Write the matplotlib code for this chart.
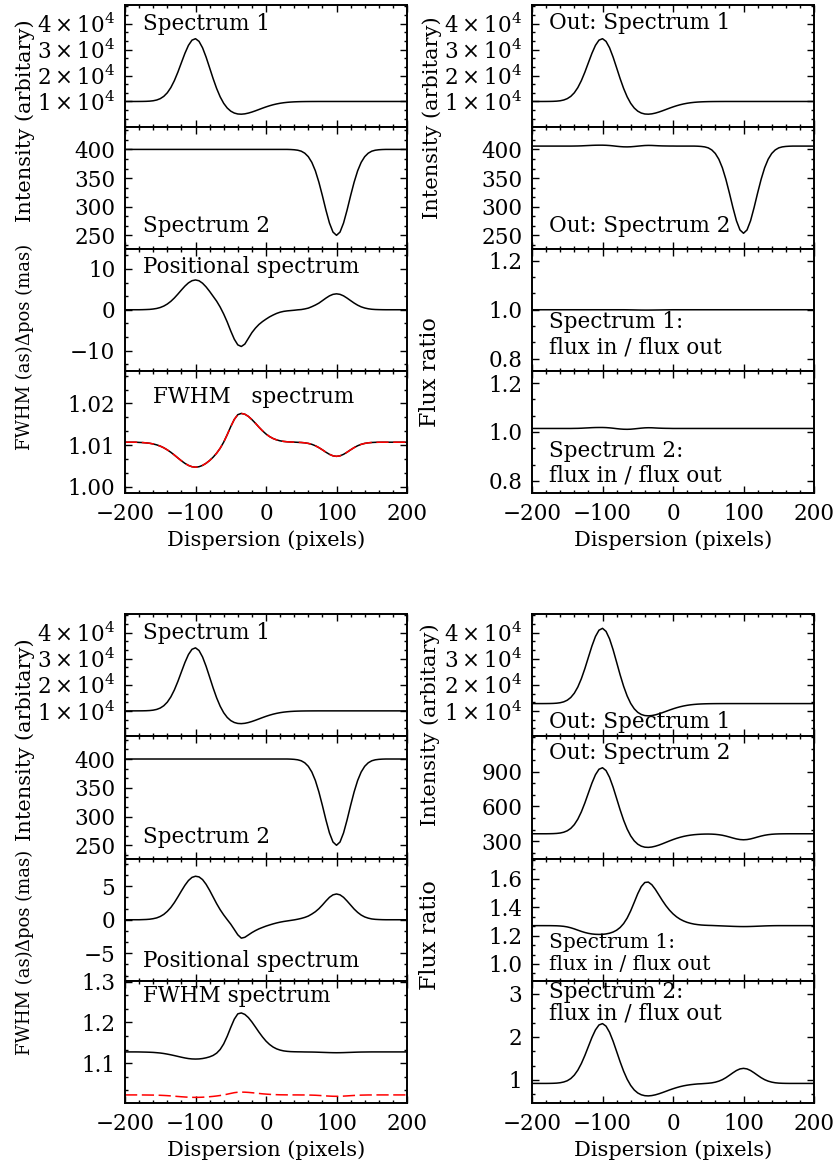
import numpy as np
import matplotlib
matplotlib.use('Agg')
import matplotlib.pyplot as plt
from matplotlib.ticker import FixedLocator, AutoMinorLocator, FuncFormatter

plt.rcParams['font.family'] = ['DejaVu Serif']
plt.rcParams['mathtext.fontset'] = 'dejavuserif'

W, H = 836, 1167

# dispersion axis (pixels), one sample every 5 pixels
dispersion = np.arange(-200, 201, 5)

# ---- case A (top half) ----
spec1 = [10000, 10000, 10000, 10000, 10008, 10022, 10055, 10127, 10276, 10565,
         11087, 11971, 13349, 15352, 18029, 21307, 24957, 28571, 31639, 33640,
         34210, 33177, 30702, 27139, 23005, 18817, 14992, 11782, 9285, 7481,
         6268, 5539, 5176, 5098, 5230, 5521, 5924, 6396, 6907, 7418,
         7903, 8344, 8728, 9049, 9310, 9512, 9665, 9776, 9855, 9908,
         9944, 9966, 9980, 9989, 9994, 10000, 10000, 10000, 10000, 10000,
         10000, 10000, 10000, 10000, 10000, 10000, 10000, 10000, 10000, 10000,
         10000, 10000, 10000, 10000, 10000, 10000, 10000, 10000, 10000, 10000,
         10000]
spec2 = [400, 400, 400, 400, 400, 400, 400, 400, 400, 400,
         400, 400, 400, 400, 400, 400, 400, 400, 400, 400,
         400, 400, 400, 400, 400, 400, 400, 400, 400, 400,
         400, 400, 400, 400, 400, 400, 400, 400, 400, 400,
         400, 400, 400, 400, 400, 400, 400, 399.8, 399.4, 398.6,
         396.9, 393.4, 387.3, 377.4, 362.7, 342.8, 319.2, 294.1, 271.5, 255.7,
         250.0, 255.7, 271.5, 294.1, 319.2, 342.8, 362.7, 377.4, 387.3, 393.4,
         396.9, 398.6, 399.4, 399.8, 400, 400, 400, 400, 400, 400,
         400]
outSpec2A = [405.8, 405.8, 405.8, 405.8, 405.8, 405.8, 405.8, 405.8, 405.8, 405.8,
             405.8, 405.8, 405.9, 406.0, 406.2, 406.5, 406.8, 407.1, 407.3, 407.4,
             407.4, 407.2, 406.8, 406.2, 405.5, 404.9, 404.5, 404.4, 404.6, 405.1,
             405.7, 406.3, 406.8, 407.0, 406.9, 406.6, 406.3, 406.1, 406.0, 405.9,
             405.9, 405.8, 405.8, 405.8, 405.8, 405.8, 405.8, 405.6, 405.2, 404.4,
             402.7, 399.1, 392.9, 382.9, 368.0, 347.8, 323.8, 298.4, 275.4, 259.4,
             253.6, 259.4, 275.4, 298.4, 323.8, 347.8, 368.0, 382.9, 392.9, 399.1,
             402.7, 404.4, 405.2, 405.6, 405.8, 405.8, 405.8, 405.8, 405.8, 405.8,
             405.8]
posA = [0, 0, 0, 0, 0, 0.02, 0.05, 0.09, 0.18, 0.32,
        0.55, 0.90, 1.40, 2.06, 2.88, 3.83, 4.83, 5.79, 6.58, 7.11,
        7.30, 7.10, 6.50, 5.60, 4.50, 3.30, 2.10, 0.65, -1.05, -3.00,
        -5.20, -7.20, -8.60, -9.00, -8.40, -7.00, -5.60, -4.50, -3.60, -2.90,
        -2.30, -1.75, -1.30, -0.90, -0.60, -0.40, -0.28, -0.20, -0.12, -0.02,
        0.05, 0.20, 0.40, 0.75, 1.15, 1.62, 2.23, 2.85, 3.40, 3.77,
        3.90, 3.77, 3.40, 2.85, 2.24, 1.64, 1.12, 0.71, 0.43, 0.24,
        0.12, 0.06, 0.03, 0.01, 0, 0, 0, 0, 0, 0,
        0]
fwhmA = [1.0107, 1.0107, 1.0107, 1.0107, 1.01065, 1.01061, 1.01054, 1.01044, 1.01028, 1.01006,
         1.00976, 1.00936, 1.00886, 1.00828, 1.00762, 1.00692, 1.00624, 1.00562, 1.00513, 1.00481,
         1.0047, 1.00481, 1.00513, 1.00564, 1.0063, 1.0071, 1.00807, 1.00925, 1.01072, 1.01251,
         1.01444, 1.01617, 1.01731, 1.01761, 1.01742, 1.0169, 1.01613, 1.01526, 1.01431, 1.01344,
         1.01267, 1.01206, 1.01159, 1.01126, 1.01103, 1.01089, 1.0108, 1.01075, 1.01072, 1.01067,
         1.01063, 1.01055, 1.01041, 1.01019, 1.00985, 1.0094, 1.00887, 1.0083, 1.00779, 1.00743,
         1.0073, 1.00743, 1.00779, 1.0083, 1.00887, 1.0094, 1.00985, 1.01019, 1.01041, 1.01055,
         1.01063, 1.01067, 1.01069, 1.0107, 1.0107, 1.0107, 1.0107, 1.0107, 1.0107, 1.0107,
         1.0107]
ratio1A = [1.0, 1.0, 1.0, 1.0, 1.0, 1.0, 1.0, 1.0, 1.0, 1.0,
           1.0, 1.0, 1.0, 1.0, 1.0, 1.0, 1.0, 1.0, 1.0, 1.0,
           1.0, 1.0, 1.0, 1.0, 1.0, 1.0, 1.0, 0.9998, 0.9996, 0.9993,
           0.999, 0.9988, 0.9987, 0.9987, 0.9988, 0.999, 0.9992, 0.9994, 0.9996, 0.9998,
           1.0, 1.0, 1.0, 1.0, 1.0, 1.0, 1.0, 1.0, 1.0, 1.0,
           1.0, 1.0, 1.0, 1.0, 1.0, 1.0, 1.0, 1.0, 1.0, 1.0,
           1.0, 1.0, 1.0, 1.0, 1.0, 1.0, 1.0, 1.0, 1.0, 1.0,
           1.0, 1.0, 1.0, 1.0, 1.0, 1.0, 1.0, 1.0, 1.0, 1.0,
           1.0]
ratio2A = [1.0145, 1.0145, 1.0145, 1.0145, 1.0145, 1.0145, 1.0145, 1.0145, 1.0145, 1.0145,
           1.0145, 1.0145, 1.0148, 1.015, 1.0155, 1.0163, 1.017, 1.0178, 1.0183, 1.0185,
           1.0185, 1.018, 1.017, 1.0155, 1.0138, 1.0123, 1.0113, 1.011, 1.0115, 1.0128,
           1.0143, 1.0158, 1.017, 1.0175, 1.0173, 1.0165, 1.0158, 1.0153, 1.015, 1.0148,
           1.0145, 1.0145, 1.0145, 1.0145, 1.0145, 1.0145, 1.0145, 1.0145, 1.0145, 1.0145,
           1.0145, 1.0145, 1.0145, 1.0145, 1.0145, 1.0145, 1.0145, 1.0145, 1.0145, 1.0145,
           1.0145, 1.0145, 1.0145, 1.0145, 1.0145, 1.0145, 1.0145, 1.0145, 1.0145, 1.0145,
           1.0145, 1.0145, 1.0145, 1.0145, 1.0145, 1.0145, 1.0145, 1.0145, 1.0145, 1.0145,
           1.0145]

# ---- case B (bottom half) ----
posB = [0, 0, 0, 0, 0, 0.02, 0.04, 0.08, 0.16, 0.28,
        0.49, 0.80, 1.25, 1.83, 2.56, 3.41, 4.30, 5.15, 5.86, 6.33,
        6.50, 6.40, 6.00, 5.30, 4.40, 3.40, 2.40, 1.50, 0.72, 0.02,
        -0.66, -1.45, -2.25, -2.75, -2.62, -2.27, -1.92, -1.62, -1.36, -1.15,
        -0.95, -0.78, -0.62, -0.48, -0.36, -0.26, -0.18, -0.10, -0.02, 0.08,
        0.20, 0.35, 0.55, 0.85, 1.20, 1.65, 2.20, 2.80, 3.35, 3.72,
        3.85, 3.72, 3.35, 2.80, 2.20, 1.60, 1.10, 0.70, 0.42, 0.24,
        0.12, 0.06, 0.03, 0.01, 0, 0, 0, 0, 0, 0,
        0]
fwhmB = [1.1277, 1.1277, 1.1277, 1.1277, 1.1276, 1.1274, 1.1272, 1.1269, 1.1265, 1.1258,
         1.1250, 1.1238, 1.1223, 1.1206, 1.1187, 1.1167, 1.1147, 1.1129, 1.1114, 1.1105,
         1.1102, 1.1105, 1.1115, 1.1132, 1.1156, 1.1191, 1.1247, 1.1337, 1.1474, 1.1661,
         1.1878, 1.2079, 1.2210, 1.2232, 1.2196, 1.2119, 1.2011, 1.1888, 1.1762, 1.1645,
         1.1542, 1.1460, 1.1397, 1.1352, 1.1322, 1.1302, 1.1291, 1.1284, 1.1281, 1.1279,
         1.1278, 1.1276, 1.1275, 1.1274, 1.1272, 1.1269, 1.1266, 1.1263, 1.1260, 1.1258,
         1.1257, 1.1258, 1.1260, 1.1263, 1.1266, 1.1269, 1.1272, 1.1274, 1.1275, 1.1276,
         1.1277, 1.1277, 1.1277, 1.1277, 1.1277, 1.1277, 1.1277, 1.1277, 1.1277, 1.1277,
         1.1277]
fwhmFitB = [1.0223, 1.0223, 1.0223, 1.0223, 1.0223, 1.0222, 1.0221, 1.0220, 1.0219, 1.0217,
            1.0214, 1.0210, 1.0205, 1.0199, 1.0192, 1.0185, 1.0178, 1.0172, 1.0167, 1.0164,
            1.0163, 1.0164, 1.0167, 1.0172, 1.0179, 1.0187, 1.0197, 1.0209, 1.0223, 1.0241,
            1.0260, 1.0278, 1.0289, 1.0292, 1.0290, 1.0285, 1.0277, 1.0269, 1.0259, 1.0250,
            1.0243, 1.0237, 1.0232, 1.0229, 1.0226, 1.0225, 1.0224, 1.0224, 1.0223, 1.0223,
            1.0222, 1.0222, 1.0220, 1.0218, 1.0215, 1.0210, 1.0205, 1.0199, 1.0194, 1.0190,
            1.0189, 1.0190, 1.0194, 1.0199, 1.0205, 1.0210, 1.0215, 1.0218, 1.0220, 1.0222,
            1.0222, 1.0223, 1.0223, 1.0223, 1.0223, 1.0223, 1.0223, 1.0223, 1.0223, 1.0223,
            1.0223]
outSpec1B = [12800, 12800, 12800, 12800, 12809, 12827, 12865, 12951, 13128, 13471,
             14092, 15142, 16781, 19162, 22346, 26246, 30590, 34900, 38567, 40977,
             41698, 40529, 37661, 33515, 28704, 23839, 19410, 15711, 12853, 10802,
             9434, 8613, 8198, 8090, 8201, 8476, 8862, 9316, 9810, 10304,
             10773, 11199, 11570, 11881, 12133, 12329, 12476, 12584, 12659, 12711,
             12746, 12767, 12781, 12789, 12794, 12797, 12800, 12800, 12800, 12800,
             12800, 12800, 12800, 12800, 12800, 12800, 12800, 12800, 12800, 12800,
             12800, 12800, 12800, 12800, 12800, 12800, 12800, 12800, 12800, 12800,
             12800]
outSpec2B = [364, 364, 364, 364, 364, 364.5, 365.3, 367.0, 370.5, 377.4,
             389.7, 410.5, 443.1, 490.4, 553.6, 631.0, 717.1, 802.4, 874.9, 922.1,
             935.4, 911.0, 852.3, 768.0, 670.2, 571.2, 480.6, 404.6, 345.5, 302.7,
             273.9, 256.6, 248.0, 246.2, 249.4, 256.4, 265.9, 277.4, 289.7, 302.0,
             313.6, 324.2, 333.4, 341.2, 347.4, 352.3, 356.0, 358.5, 360.3, 361.3,
             361.6, 360.9, 359.1, 355.8, 351.1, 344.2, 336.0, 327.3, 319.4, 314.0,
             312.0, 314.0, 319.4, 327.3, 336.0, 344.2, 351.1, 356.1, 359.6, 361.7,
             362.9, 363.5, 363.8, 364, 364, 364, 364, 364, 364, 364,
             364]
ratio1B = [1.270, 1.270, 1.270, 1.270, 1.2699, 1.2699, 1.2695, 1.2689, 1.2675, 1.2651,
           1.2610, 1.2549, 1.2471, 1.2382, 1.2294, 1.2218, 1.2157, 1.2115, 1.2090, 1.2081,
           1.2089, 1.2116, 1.2167, 1.2249, 1.2377, 1.2569, 1.2847, 1.3235, 1.3743, 1.4339,
           1.4951, 1.5450, 1.5739, 1.5769, 1.5581, 1.5252, 1.4860, 1.4465, 1.4103, 1.3791,
           1.3532, 1.3322, 1.3156, 1.3030, 1.2932, 1.2862, 1.2808, 1.2772, 1.2745, 1.2729,
           1.2718, 1.2711, 1.2700, 1.2690, 1.2680, 1.2670, 1.2660, 1.2650, 1.2642, 1.2636,
           1.2634, 1.2636, 1.2642, 1.2650, 1.2660, 1.2670, 1.2680, 1.2688, 1.2694, 1.2698,
           1.270, 1.270, 1.270, 1.270, 1.270, 1.270, 1.270, 1.270, 1.270, 1.270,
           1.270]
ratio2B = [0.92, 0.92, 0.92, 0.92, 0.92, 0.921, 0.923, 0.927, 0.936, 0.953,
           0.982, 1.033, 1.113, 1.228, 1.382, 1.570, 1.779, 1.987, 2.163, 2.278,
           2.310, 2.251, 2.108, 1.902, 1.664, 1.423, 1.202, 1.017, 0.873, 0.768,
           0.698, 0.656, 0.635, 0.630, 0.638, 0.655, 0.679, 0.707, 0.737, 0.768,
           0.796, 0.822, 0.845, 0.864, 0.879, 0.891, 0.900, 0.908, 0.912, 0.918,
           0.924, 0.933, 0.949, 0.973, 1.007, 1.053, 1.109, 1.167, 1.220, 1.257,
           1.270, 1.257, 1.220, 1.167, 1.109, 1.053, 1.007, 0.973, 0.950, 0.935,
           0.927, 0.923, 0.921, 0.92, 0.92, 0.92, 0.92, 0.92, 0.92, 0.92,
           0.92]

for arr in [spec1, spec2, outSpec2A, posA, fwhmA, ratio1A, ratio2A, posB, fwhmB,
            fwhmFitB, outSpec1B, outSpec2B, ratio1B, ratio2B]:
    assert len(arr) == len(dispersion)

# tick values
dispTicks = [-200, -100, 0, 100, 200]
intTicks1 = [1e4, 2e4, 3e4, 4e4]
intTicks2 = [250, 300, 350, 400]
posTicksA = [-10, 0, 10]
fwhmTicksA = [1.00, 1.01, 1.02]
ratioTicksA = [0.8, 1.0, 1.2]
posTicksB = [-5, 0, 5]
fwhmTicksB = [1.1, 1.2, 1.3]
outTicks2B = [300, 600, 900]
ratioTicks1B = [1.0, 1.2, 1.4, 1.6]
ratioTicks2B = [1, 2, 3]


def minus(s):
    return s.replace('-', '\u2212')

fmtSci = FuncFormatter(lambda v, p: r'$%d\times10^{4}$' % round(v / 1e4))
fmtInt = FuncFormatter(lambda v, p: minus('%d' % round(v)))
fmt2 = FuncFormatter(lambda v, p: '%.2f' % v)
fmt1 = FuncFormatter(lambda v, p: '%.1f' % v)

fig = plt.figure(figsize=(W / 100, H / 100), dpi=100)


def makeAxes(left, right, top, bottom, ylim, yticks, yfmt, bottomRow):
    ax = fig.add_axes([left / W, 1 - bottom / H, (right - left) / W, (bottom - top) / H])
    ax.set_xlim(-200, 200)
    ax.set_ylim(*ylim)
    ax.xaxis.set_major_locator(FixedLocator(dispTicks))
    ax.xaxis.set_minor_locator(AutoMinorLocator(5))
    ax.yaxis.set_major_locator(FixedLocator(yticks))
    ax.yaxis.set_minor_locator(AutoMinorLocator(3))
    ax.yaxis.set_major_formatter(yfmt)
    ax.xaxis.set_major_formatter(fmtInt)
    ax.tick_params(which='both', direction='in', top=True, right=True, width=1.0)
    ax.tick_params(which='major', length=4.8, labelsize=15.5, pad=7)
    ax.tick_params(which='minor', length=2.4)
    if not bottomRow:
        ax.tick_params(labelbottom=False)
    for sp in ax.spines.values():
        sp.set_linewidth(1.4)
    return ax


def label(x, y, s, size=15.5):
    fig.text(x / W, 1 - y / H, s, fontsize=size, ha='left', va='baseline')


def ylabel(x, y, s, size=15):
    fig.text(x / W, 1 - y / H, s, fontsize=size, rotation=90, ha='center', va='center')


def xlabel(x, y, s):
    fig.text(x / W, 1 - y / H, s, fontsize=15, ha='center', va='center')


lineKw = dict(color='black', lw=1.1)
fitKw = dict(color='red', lw=1.1, dashes=(8, 3))

rowsA = [5, 126.5, 248.5, 371, 493]
rowsB = [614, 736, 858.5, 981, 1103]
colL = (125, 407)
colR = (532, 814)
lim1 = (350, 4.72e4)
lim2 = (227, 440)

# ---------------- top left ----------------
ax = makeAxes(colL[0], colL[1], rowsA[0], rowsA[1], lim1, intTicks1, fmtSci, False)
ax.plot(dispersion, spec1, **lineKw)
ax = makeAxes(colL[0], colL[1], rowsA[1], rowsA[2], lim2, intTicks2, fmtInt, False)
ax.plot(dispersion, spec2, **lineKw)
ax = makeAxes(colL[0], colL[1], rowsA[2], rowsA[3], (-15, 15), posTicksA, fmtInt, False)
ax.plot(dispersion, posA, **lineKw)
ax = makeAxes(colL[0], colL[1], rowsA[3], rowsA[4], (0.9985, 1.0278), fwhmTicksA, fmt2, True)
ax.plot(dispersion, fwhmA, **lineKw)
ax.plot(dispersion, fwhmA, **fitKw)

label(143, 30, 'Spectrum 1')
label(143, 232, 'Spectrum 2')
label(143, 273, 'Positional spectrum')
label(153, 403, 'FWHM   spectrum')
ylabel(25, 121, 'Intensity (arbitary)')
ylabel(25, 294, '\u0394pos (mas)', 13)
ylabel(25, 398, 'FWHM (as)', 13)
xlabel(266, 540, 'Dispersion (pixels)')

# ---------------- top right ----------------
ax = makeAxes(colR[0], colR[1], rowsA[0], rowsA[1], lim1, intTicks1, fmtSci, False)
ax.plot(dispersion, spec1, **lineKw)
ax = makeAxes(colR[0], colR[1], rowsA[1], rowsA[2], lim2, intTicks2, fmtInt, False)
ax.plot(dispersion, outSpec2A, **lineKw)
ax = makeAxes(colR[0], colR[1], rowsA[2], rowsA[3], (0.75, 1.25), ratioTicksA, fmt1, False)
ax.plot(dispersion, ratio1A, **lineKw)
ax = makeAxes(colR[0], colR[1], rowsA[3], rowsA[4], (0.75, 1.25), ratioTicksA, fmt1, True)
ax.plot(dispersion, ratio2A, **lineKw)

label(549, 29, 'Out: Spectrum 1')
label(549, 232, 'Out: Spectrum 2')
label(549, 328, 'Spectrum 1:')
label(549, 353, 'flux in / flux out')
label(549, 457, 'Spectrum 2:')
label(549, 481, 'flux in / flux out')
ylabel(432, 118, 'Intensity (arbitary)')
ylabel(430, 372, 'Flux ratio', 16)
xlabel(673, 540, 'Dispersion (pixels)')

# ---------------- bottom left ----------------
ax = makeAxes(colL[0], colL[1], rowsB[0], rowsB[1], lim1, intTicks1, fmtSci, False)
ax.plot(dispersion, spec1, **lineKw)
ax = makeAxes(colL[0], colL[1], rowsB[1], rowsB[2], lim2, intTicks2, fmtInt, False)
ax.plot(dispersion, spec2, **lineKw)
ax = makeAxes(colL[0], colL[1], rowsB[2], rowsB[3], (-9.15, 9.15), posTicksB, fmtInt, False)
ax.plot(dispersion, posB, **lineKw)
ax = makeAxes(colL[0], colL[1], rowsB[3], rowsB[4], (1.0025, 1.3015), fwhmTicksB, fmt1, True)
ax.plot(dispersion, fwhmB, **lineKw)
ax.plot(dispersion, fwhmFitB, **fitKw)

label(143, 639, 'Spectrum 1')
label(143, 843, 'Spectrum 2')
label(143, 967, 'Positional spectrum')
label(143, 1002, 'FWHM spectrum')
ylabel(25, 740, 'Intensity (arbitary)')
ylabel(25, 900, '\u0394pos (mas)', 13)
ylabel(25, 1003, 'FWHM (as)', 13)
xlabel(266, 1150, 'Dispersion (pixels)')

# ---------------- bottom right ----------------
ax = makeAxes(colR[0], colR[1], rowsB[0], rowsB[1], lim1, intTicks1, fmtSci, False)
ax.plot(dispersion, outSpec1B, **lineKw)
ax = makeAxes(colR[0], colR[1], rowsB[1], rowsB[2], (150, 1210), outTicks2B, fmtInt, False)
ax.plot(dispersion, outSpec2B, **lineKw)
ax = makeAxes(colR[0], colR[1], rowsB[2], rowsB[3], (0.88, 1.743), ratioTicks1B, fmt1, False)
ax.plot(dispersion, ratio1B, **lineKw)
ax = makeAxes(colR[0], colR[1], rowsB[3], rowsB[4], (0.465, 3.30), ratioTicks2B, fmtInt, True)
ax.plot(dispersion, ratio2B, **lineKw)

label(549, 728, 'Out: Spectrum 1')
label(549, 759, 'Out: Spectrum 2')
label(549, 948, 'Spectrum 1:', 14.5)
label(549, 970, 'flux in / flux out', 14.5)
label(549, 998, 'Spectrum 2:')
label(549, 1020, 'flux in / flux out')
ylabel(430, 725, 'Intensity (arbitary)')
ylabel(430, 935, 'Flux ratio', 16)
xlabel(673, 1150, 'Dispersion (pixels)')

fig.savefig('out.png', dpi=100)
